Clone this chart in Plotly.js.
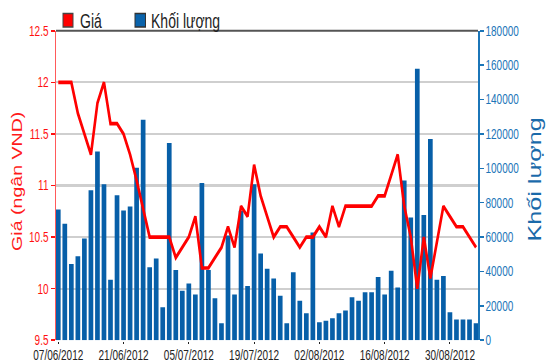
<!DOCTYPE html>
<html><head><meta charset="utf-8">
<script src="https://cdn.plot.ly/plotly-3.0.1.min.js"></script>
<style>
html,body{margin:0;padding:0;background:#fff;overflow:hidden}
#wrap{width:550px;height:364px;overflow:hidden;position:relative;background:#fff}
#chart{width:550px;height:260px;transform:scaleY(1.4);transform-origin:0 0}
</style></head><body>
<div id="wrap"><div id="chart"></div></div>
<script>
const dates = [
 '07/06/2012','08/06/2012','11/06/2012','12/06/2012','13/06/2012','14/06/2012','15/06/2012','18/06/2012','19/06/2012','20/06/2012',
 '21/06/2012','22/06/2012','25/06/2012','26/06/2012','27/06/2012','28/06/2012','29/06/2012','02/07/2012','03/07/2012','04/07/2012',
 '05/07/2012','06/07/2012','09/07/2012','10/07/2012','11/07/2012','12/07/2012','13/07/2012','16/07/2012','17/07/2012','18/07/2012',
 '19/07/2012','20/07/2012','23/07/2012','24/07/2012','25/07/2012','26/07/2012','27/07/2012','30/07/2012','31/07/2012','01/08/2012',
 '02/08/2012','03/08/2012','06/08/2012','07/08/2012','08/08/2012','09/08/2012','10/08/2012','13/08/2012','14/08/2012','15/08/2012',
 '16/08/2012','17/08/2012','20/08/2012','21/08/2012','22/08/2012','23/08/2012','24/08/2012','27/08/2012','28/08/2012','29/08/2012',
 '30/08/2012','31/08/2012','04/09/2012','05/09/2012','06/09/2012'];
const price = [
 12.0,12.0,12.0,11.7,11.5,11.3,11.8,12.0,11.6,11.6,
 11.5,11.3,11.05,10.77,10.5,10.5,10.5,10.5,10.3,10.4,
 10.5,10.7,10.2,10.2,10.3,10.4,10.6,10.4,10.8,10.7,
 11.2,10.9,10.7,10.5,10.6,10.6,10.5,10.4,10.5,10.5,
 10.6,10.5,10.8,10.6,10.8,10.8,10.8,10.8,10.8,10.9,
 10.9,11.1,11.3,10.8,10.5,10.0,10.5,10.1,10.45,10.8,
 10.7,10.6,10.6,10.5,10.4];
const volume = [
 76000,67700,44400,48900,59200,87300,109800,90800,35100,84400,
 75500,77800,100300,128200,42500,47500,19200,114700,40900,28700,
 33000,26600,91400,40900,24400,9900,60900,26600,75300,31600,
 90800,50400,41500,35900,25800,9900,39600,22900,15700,62700,
 10500,11300,12800,15700,17300,25000,22900,27900,27900,36700,
 26600,40400,30700,92900,71400,157900,72900,117000,35100,37400,
 16300,12000,12000,12000,9900];
const tickDates = ['07/06/2012','21/06/2012','05/07/2012','19/07/2012','02/08/2012','16/08/2012','30/08/2012'];
const seriesNames = ['Giá','Khối lượng'];
const axisTitles = ['Giá (ngân VND)','Khối lượng'];

const S = 1.4, L = 56, R = 72, T = 22, B = 17, HH = 260;
const W = 550 - L - R, H = HH - T - B;
const px = x => (x - L) / W;
const py = y => 1 - (y / S - T) / H;
const FONT = 'Liberation Sans, Arial, sans-serif';
const RED = '#ff1010', BLUE = '#1b75b8', BAR = '#075fa8';

const traces = [
 {type:'bar', x:dates, y:volume, yaxis:'y', name:seriesNames[1],
  marker:{color:BAR, line:{width:0}}, hoverinfo:'skip'},
 {type:'scatter', mode:'lines', x:dates, y:price, yaxis:'y2', name:seriesNames[0],
  line:{color:'#ff0000', width:2.6}, hoverinfo:'skip'}
];

const layout = {
 width:550, height:HH,
 margin:{l:L, r:R, t:T, b:B, pad:0},
 paper_bgcolor:'#fff', plot_bgcolor:'#fff',
 showlegend:false, bargap:0.28,
 font:{family:FONT, size:10, color:'#222'},
 xaxis:{type:'category', range:[-0.35,64.3], tickmode:'array', tickvals:tickDates, ticktext:tickDates,
   ticks:'outside', ticklen:2, tickwidth:1, tickcolor:'#222', ticklabelstandoff:-1,
   showgrid:false, showline:false, zeroline:false,
   tickfont:{family:FONT, size:10, color:'#222'}, fixedrange:true},
 yaxis:{side:'right', range:[0,180000], dtick:20000, tickformat:'d', showgrid:false, zeroline:false,
   showline:true, linecolor:BLUE, linewidth:1.5, ticks:'outside', ticklen:4, tickcolor:BLUE,
   tickfont:{family:FONT, size:10, color:BLUE}},
 yaxis2:{overlaying:'y', side:'left', range:[9.5,12.5], dtick:0.5, showgrid:true, gridcolor:'#cfcfcf', gridwidth:1.5,
   zeroline:false, showline:true, linecolor:'#ff5a5a', linewidth:1.5, ticks:'outside', ticklen:4, tickcolor:RED,
   tickfont:{family:FONT, size:10, color:RED}},
 shapes:[
  {type:'line', xref:'paper', yref:'paper', x0:0, x1:1, y0:1, y1:1, line:{color:'#555', width:1.5}},
  {type:'rect', xref:'paper', yref:'paper', x0:px(63), x1:px(73), y0:py(27), y1:py(13.5), fillcolor:'#ff0000', line:{color:'#444', width:1}},
  {type:'rect', xref:'paper', yref:'paper', x0:px(135), x1:px(145.5), y0:py(27), y1:py(13.5), fillcolor:'#0a63ab', line:{color:'#333', width:1}}
 ],
 annotations:[
  {xref:'paper', yref:'paper', x:px(78), y:py(20.5), xanchor:'left', yanchor:'middle', showarrow:false,
   text:seriesNames[0], font:{family:FONT, size:14, color:'#222'}},
  {xref:'paper', yref:'paper', x:px(149), y:py(20.5), xanchor:'left', yanchor:'middle', showarrow:false,
   text:seriesNames[1], font:{family:FONT, size:14, color:'#222'}},
  {xref:'paper', yref:'paper', x:px(17), y:py(181), xanchor:'center', yanchor:'middle', showarrow:false, textangle:-90,
   text:axisTitles[0], font:{family:FONT, size:14, color:'#ff1a1a'}},
  {xref:'paper', yref:'paper', x:px(535), y:py(180), xanchor:'center', yanchor:'middle', showarrow:false, textangle:-90,
   text:axisTitles[1], font:{family:FONT, size:18, color:'#1a6aaa'}}
 ]
};
Plotly.newPlot('chart', traces, layout, {displayModeBar:false, staticPlot:true});
</script>
</body></html>
